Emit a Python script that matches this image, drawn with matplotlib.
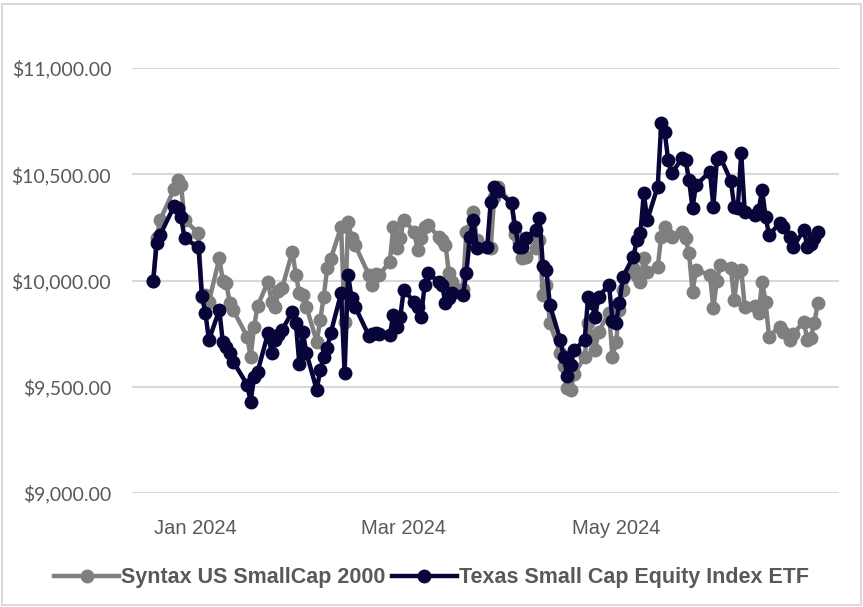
import matplotlib
matplotlib.use("Agg")
import matplotlib.pyplot as plt
import matplotlib.dates as mdates
from matplotlib.patches import Rectangle
from matplotlib.ticker import FuncFormatter
import pandas as pd
import datetime as dt

# ---- data -------------------------------------------------------------
holidays = ["2023-12-25", "2024-01-01", "2024-01-15", "2024-02-19",
            "2024-03-29", "2024-05-27", "2024-06-19"]
dates = pd.bdate_range("2023-12-20", "2024-06-28", freq="C", holidays=holidays)

syntax = [
    # Dec
    10000, 10200, 10285, 10430, 10473, 10450, 10285,
    # Jan
    10222, 9924, 9930, 9900, 10104, 10000, 9990, 9893, 9860, 9736, 9641,
    9783, 9880, 9995, 9900, 9877, 9950, 9963, 10136, 10026, 9940,
    # Feb
    9932, 9877, 9712, 9814, 9924, 10057, 10100, 10253, 9806, 10277, 10200,
    10167, 10026, 9979, 10030, 10026, 10089, 10253, 10152, 10199,
    # Mar
    10285, 10230, 10144, 10200, 10253, 10261, 10206, 10190, 10167, 10034,
    9995, 9960, 10230, 10240, 10324, 10190, 10160, 10152, 10394, 10441,
    # Apr
    10363, 10220, 10183, 10104, 10110, 10152, 10190, 9932, 9977, 9799, 9657,
    9600, 9493, 9485, 9560, 9641, 9800, 9740, 9673, 9760, 9847, 9641,
    # May
    9710, 9860, 9955, 10057, 10020, 9995, 10104, 10040, 10065, 10206, 10253,
    10215, 10206, 10230, 10199, 10128, 9947, 10049, 10026, 9869, 10000, 10073,
    # Jun
    10057, 9908, 10040, 10050, 9877, 9880, 9845, 9995, 9900, 9736, 9783,
    9760, 9720, 9750, 9806, 9720, 9730, 9800, 9893,
]

texas = [
    # Dec
    10000, 10176, 10215, 10350, 10340, 10300, 10200,
    # Jan
    10156, 9926, 9847, 9720, 9861, 9712, 9689, 9660, 9618, 9510, 9430,
    9547, 9571, 9752, 9660, 9720, 9744, 9767, 9853, 9799, 9605,
    # Feb
    9760, 9660, 9485, 9580, 9640, 9681, 9752, 9940, 9563, 10026, 9920,
    9877, 9740, 9750, 9752, 9750, 9745, 9838, 9783, 9830,
    # Mar
    9955, 9900, 9877, 9830, 9979, 10034, 9995, 9979, 9893, 9920, 9940,
    9932, 10034, 10206, 10285, 10152, 10160, 10371, 10441, 10420,
    # Apr
    10363, 10253, 10160, 10160, 10200, 10238, 10293, 10070, 10050, 9885,
    9720, 9641, 9550, 9602, 9673, 9720, 9924, 9893, 9830, 9924, 9979, 9810,
    # May
    9800, 9893, 10018, 10112, 10190, 10222, 10410, 10285, 10442, 10740,
    10700, 10567, 10504, 10575, 10567, 10473, 10340, 10449, 10512, 10347,
    10570, 10580,
    # Jun
    10470, 10347, 10340, 10600, 10324, 10308, 10330, 10426, 10300, 10214,
    10269, 10250, 10206, 10159, 10238, 10159, 10170, 10200, 10230,
]

series_names = ["Syntax US SmallCap 2000", "Texas Small Cap Equity Index ETF"]
y_ticks = [9000, 9500, 10000, 10500, 11000]
x_ticks = ["2024-01-01", "2024-03-01", "2024-05-01"]

# ---- style -------------------------------------------------------------
GRAY = "#7f7f7f"
NAVY = "#07053a"
TXT = "#595959"
GRID = "#d9d9d9"

W, H = 863, 607
fig = plt.figure(figsize=(W / 100, H / 100), dpi=100)
ax = fig.add_axes([132 / W, 1 - 493 / H, (839 - 132) / W, (493 - 68) / H])

ax.plot(dates, syntax, color=GRAY, lw=3.2, marker="o", ms=9, label=series_names[0])
ax.plot(dates, texas, color=NAVY, lw=3.2, marker="o", ms=9, label=series_names[1])

ax.set_ylim(9000, 11000)
ax.set_yticks(y_ticks)
ax.yaxis.set_major_formatter(FuncFormatter(lambda v, p: f"${v:,.2f}"))

jan1 = mdates.date2num(dt.datetime(2024, 1, 1))
ax.set_xlim(jan1 - 18.1, jan1 + 185.1)
ax.set_xticks([mdates.date2num(pd.Timestamp(t)) for t in x_ticks])
ax.xaxis.set_major_formatter(mdates.DateFormatter("%b %Y"))

ax.grid(axis="y", color=GRID, lw=1.5)
ax.set_axisbelow(True)
for s in ax.spines.values():
    s.set_visible(False)
ax.tick_params(axis="both", length=0, colors=TXT)
ax.tick_params(axis="y", pad=15, labelsize=14)
ax.tick_params(axis="x", pad=19, labelsize=14.5)
for lab in ax.get_yticklabels():
    lab.set_fontfamily(["Lato", "DejaVu Sans"])
for lab in ax.get_xticklabels():
    lab.set_fontfamily(["Liberation Sans", "DejaVu Sans"])

leg = fig.legend(loc="center", bbox_to_anchor=(0.5, 1 - 578 / H), ncol=2,
                 frameon=False, handlelength=3.0, columnspacing=0.3, handletextpad=0.1,
                 prop={"family": ["Liberation Sans", "DejaVu Sans"],
                       "weight": "bold", "size": 15.5})
for t in leg.get_texts():
    t.set_color(TXT)

fig.patches.append(Rectangle((2 / W, 2 / H), (W - 4) / W, (H - 6) / H,
                             transform=fig.transFigure, fill=False,
                             edgecolor=GRID, lw=1.5))

fig.savefig("out.png", dpi=100)
